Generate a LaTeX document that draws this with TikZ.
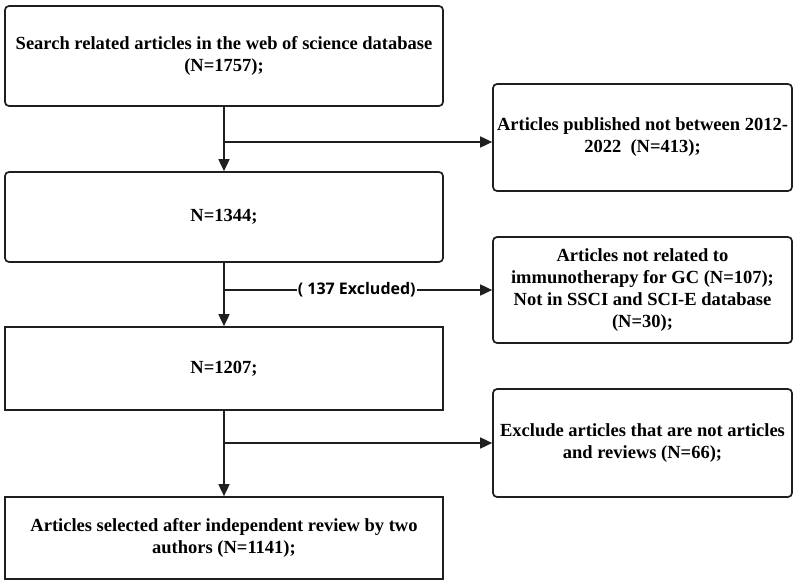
\documentclass[tikz,border=0pt]{standalone}
\usepackage{fontspec}
\setmainfont{Liberation Serif}
\newfontfamily\labfont{Open Sans}
\usetikzlibrary{arrows.meta}
\begin{document}
\begin{tikzpicture}[x=1pt,y=-1pt,
  box/.style={draw=black!88, line width=1.7pt, minimum width=438pt, align=center,
    font=\fontsize{18.5}{22}\selectfont\bfseries, inner sep=0pt},
  rbox/.style={box, rounded corners=4pt},
  sbox/.style={box, minimum width=299pt},
  conn/.style={draw=black!88, line width=1.7pt},
  arr/.style={conn, -{Triangle[length=12pt,width=11pt]}}]
\useasboundingbox (0,0) rectangle (800,586);
\node[rbox, minimum height=100pt] (s1) at (224,56) {Search related articles in the web of science database\\(N=1757);};
\node[sbox, rounded corners=4pt, minimum height=107pt] (e1) at (642.5,137.5) {Articles published not between 2012-\\2022\ \ (N=413);};
\node[rbox, minimum height=90pt] (s2) at (224,217) {N=1344;};
\node[sbox, rounded corners=4pt, minimum height=106pt] (e2) at (642.5,290) {Articles not related to\\immunotherapy for GC (N=107);\\Not in SSCI and SCI-E database\\(N=30);};
\node[box, minimum height=83pt] (s3) at (224,368.5) {N=1207;};
\node[sbox, rounded corners=4pt, minimum height=108pt] (e3) at (642.5,443) {Exclude articles that are not articles\\and reviews (N=66);};
\node[box, minimum height=82pt] (s4) at (224,538) {Articles selected after independent review by two\\authors (N=1141);};
\coordinate (j1) at (224,142);
\coordinate (j2) at (224,290);
\coordinate (j3) at (224,443);
\draw[arr] (s1.south) -- (s2.north);
\draw[arr] (s2.south) -- (s3.north);
\draw[arr] (s3.south) -- (s4.north);
\draw[arr] (j1) -- (j1 -| e1.west);
\draw[arr] (j2) -- node[pos=0.495, fill=white, inner sep=1pt, font=\labfont\fontsize{16}{18}\selectfont\bfseries] (lab) {( 137 Excluded)} (j2 -| e2.west);
\draw[arr] (j3) -- (j3 -| e3.west);
\end{tikzpicture}
\end{document}
